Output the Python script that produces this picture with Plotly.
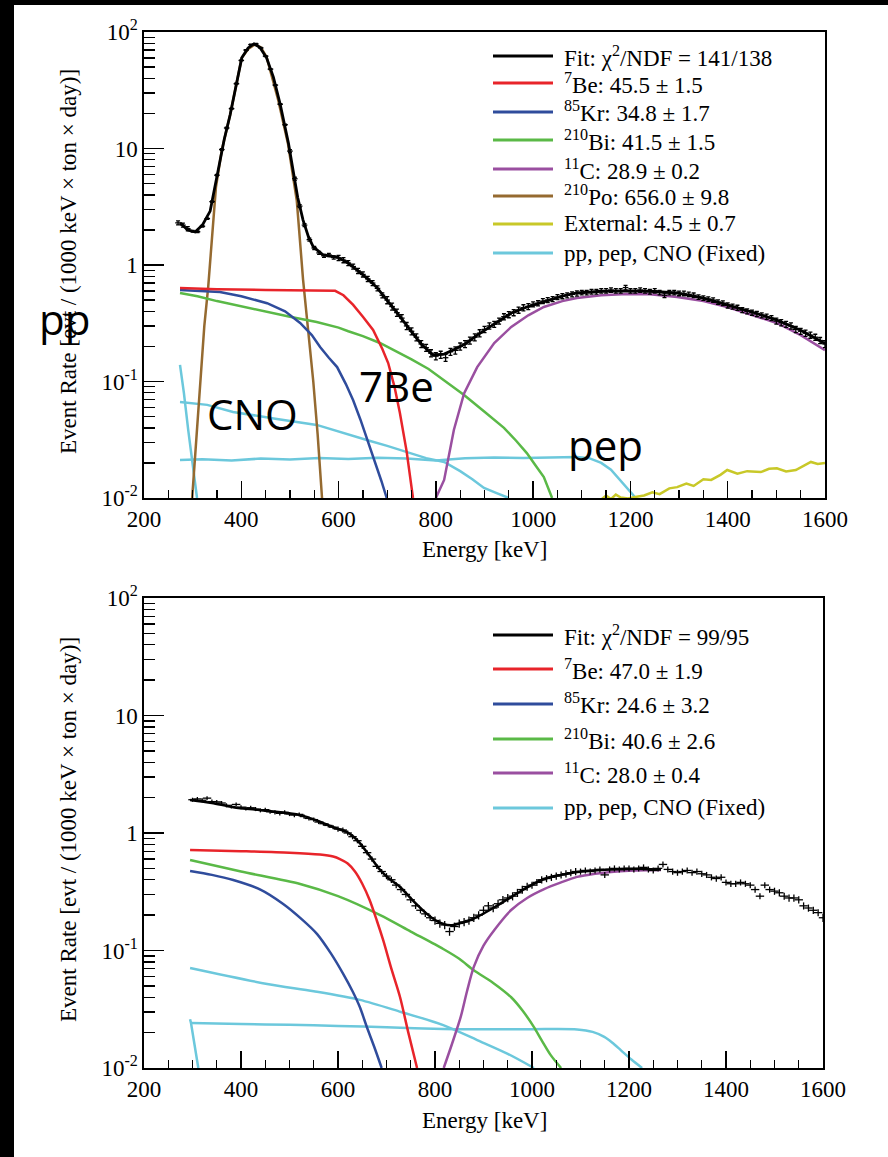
import plotly.graph_objects as go

# ---------------- DATA ----------------
# Panel A (top)
E_data_a = [270, 280, 290, 300, 310, 320, 330, 340, 350, 360, 370, 380, 390, 400, 410, 420, 430, 440, 450, 460,
            470, 480, 490, 500, 510, 520, 530, 540, 550, 560, 570, 580, 590, 600, 610, 620, 630, 640, 650, 660,
            670, 680, 690, 700, 710, 720, 730, 740, 750, 760, 770, 780, 790, 800, 810, 820, 830, 840, 850, 860,
            870, 880, 890, 900, 910, 920, 930, 940, 950, 960, 970, 980, 990, 1000, 1010, 1020, 1030, 1040, 1050, 1060,
            1070, 1080, 1090, 1100, 1110, 1120, 1130, 1140, 1150, 1160, 1170, 1180, 1190, 1200, 1210, 1220, 1230, 1240, 1250, 1260,
            1270, 1280, 1290, 1300, 1310, 1320, 1330, 1340, 1350, 1360, 1370, 1380, 1390, 1400, 1410, 1420, 1430, 1440, 1450, 1460,
            1470, 1480, 1490, 1500, 1510, 1520, 1530, 1540, 1550, 1560, 1570, 1580, 1590, 1600]
v_data_a = [2.3, 2.2, 2.05, 1.95, 1.93, 2.15, 2.5, 3.5, 5.9, 9.8, 15, 22, 36, 57, 70, 78, 79, 73, 62, 48,
            35, 24, 16, 9.5, 5.5, 3.2, 2.2, 1.65, 1.4, 1.27, 1.2, 1.22, 1.16, 1.15, 1.1, 1.04, 0.97, 0.89, 0.83, 0.76,
            0.70, 0.63, 0.55, 0.50, 0.44, 0.39, 0.35, 0.30, 0.27, 0.24, 0.21, 0.195, 0.175, 0.165, 0.17, 0.16, 0.18, 0.185, 0.20, 0.21,
            0.225, 0.24, 0.26, 0.28, 0.30, 0.31, 0.33, 0.36, 0.375, 0.39, 0.41, 0.43, 0.44, 0.46, 0.47, 0.49, 0.50, 0.51, 0.53, 0.54,
            0.55, 0.56, 0.57, 0.58, 0.58, 0.59, 0.59, 0.60, 0.60, 0.61, 0.60, 0.60, 0.64, 0.60, 0.60, 0.61, 0.60, 0.59, 0.60, 0.58,
            0.55, 0.58, 0.58, 0.57, 0.57, 0.56, 0.55, 0.53, 0.52, 0.51, 0.50, 0.48, 0.47, 0.45, 0.44, 0.43, 0.41, 0.40, 0.39, 0.38,
            0.37, 0.36, 0.35, 0.33, 0.32, 0.31, 0.30, 0.28, 0.27, 0.26, 0.25, 0.24, 0.225, 0.21]
rel_err_a = [0.04, 0.015, 0.01, 0.03, 0.05, 0.07, 0.07, 0.06, 0.05, 0.045, 0.045, 0.045, 0.05, 0.06, 0.07]  # per 100 keV from 200

E_fit_a = [274, 290, 305, 320, 336, 352, 365, 377, 390, 401, 414, 426, 438, 452, 466, 480, 497, 507, 516, 527, 538, 548,
           568, 597, 618, 638, 660, 679, 700, 720, 747, 770, 794, 817, 840, 860, 885, 920, 955, 990, 1022, 1060, 1090,
           1140, 1193, 1240, 1296, 1350, 1399, 1450, 1501, 1550, 1600]
v_fit_a = [2.3, 2.0, 1.92, 2.2, 2.9, 6.5, 12, 19.4, 37, 60, 73, 79, 74, 60, 41, 24, 11.1, 6.5, 3.8, 2.43, 1.75, 1.43,
           1.22, 1.17, 1.05, 0.906, 0.76, 0.64, 0.50, 0.39, 0.277, 0.21, 0.169, 0.172, 0.19, 0.21, 0.25, 0.31, 0.387, 0.44, 0.48, 0.54, 0.575,
           0.595, 0.60, 0.595, 0.575, 0.52, 0.454, 0.395, 0.337, 0.275, 0.212]

E_be7_a = [274, 350, 450, 550, 593, 610, 630, 650, 671, 690, 702, 715, 726, 740, 753]
v_be7_a = [0.635, 0.62, 0.61, 0.605, 0.60, 0.55, 0.454, 0.36, 0.277, 0.19, 0.144, 0.09, 0.054, 0.025, 0.01]

E_kr85_a = [274, 356, 400, 453, 490, 521, 545, 562, 580, 597, 615, 630, 645, 658, 675, 688, 699]
v_kr85_a = [0.61, 0.586, 0.54, 0.47, 0.40, 0.318, 0.25, 0.198, 0.16, 0.133, 0.095, 0.069, 0.047, 0.033, 0.02, 0.014, 0.01]

E_bi210_a = [274, 310, 350, 400, 453, 500, 555, 600, 620, 650, 685, 720, 750, 785, 815, 858, 900, 940, 965, 987, 1005, 1022, 1039]
v_bi210_a = [0.575, 0.54, 0.49, 0.44, 0.395, 0.36, 0.324, 0.29, 0.27, 0.245, 0.214, 0.18, 0.155, 0.128, 0.103, 0.0766, 0.055, 0.04, 0.031, 0.0243, 0.019, 0.0151, 0.01]

E_c11_a = [800, 817, 837, 858, 885, 920, 955, 990, 1022, 1060, 1090, 1140, 1193, 1240, 1296, 1350, 1399, 1450, 1501, 1550, 1600]
v_c11_a = [0.01, 0.0143, 0.0384, 0.079, 0.133, 0.214, 0.294, 0.37, 0.436, 0.49, 0.52, 0.55, 0.564, 0.56, 0.531, 0.49, 0.436, 0.375, 0.318, 0.25, 0.186]

E_po210_a = [299, 307, 315, 324, 332, 340, 348, 360, 377, 401, 415, 428, 440, 452, 466, 476, 496, 514, 527, 537, 548, 557, 566]
v_po210_a = [0.01, 0.03, 0.1, 0.3, 0.65, 1.9, 4.7, 9.7, 19.4, 60, 72, 78, 74, 61, 38, 26, 11, 3.6, 0.75, 0.3, 0.1, 0.035, 0.01]

E_ext_a = [1140, 1150, 1160, 1170, 1180, 1195, 1210, 1228, 1245, 1260, 1280, 1296, 1315, 1330, 1350, 1366, 1385, 1399, 1420,
           1440, 1468, 1485, 1501, 1520, 1540, 1555, 1571, 1585, 1600]
v_ext_a = [0.0097, 0.0105, 0.0098, 0.0107, 0.0101, 0.0099, 0.0102, 0.0105, 0.0112, 0.0108, 0.0121, 0.0124, 0.0133, 0.0127, 0.0145,
           0.0143, 0.0158, 0.0174, 0.0162, 0.0170, 0.0167, 0.0178, 0.0180, 0.0169, 0.0174, 0.0189, 0.0204, 0.0196, 0.0200]

E_pp_a = [274, 282, 291, 300, 309]
v_pp_a = [0.139, 0.08, 0.038, 0.02, 0.01]

E_cno_a = [274, 300, 330, 383, 420, 470, 555, 600, 658, 700, 747, 780, 817, 850, 875, 899, 925, 950]
v_cno_a = [0.0667, 0.065, 0.063, 0.0547, 0.052, 0.048, 0.0424, 0.037, 0.0315, 0.028, 0.0243, 0.022, 0.0204, 0.017, 0.0145, 0.0122, 0.011, 0.01]

E_pep_a = [274, 320, 380, 440, 500, 560, 620, 680, 740, 800, 860, 920, 980, 1040, 1090, 1115, 1140, 1160, 1173, 1190, 1211]
v_pep_a = [0.0212, 0.0215, 0.0210, 0.0218, 0.0214, 0.0220, 0.0216, 0.0222, 0.0218, 0.0210, 0.0219, 0.0223, 0.0221, 0.0224,
           0.0225, 0.022, 0.020, 0.0175, 0.0151, 0.0125, 0.01]

# Panel B (bottom)
E_data_b = [300, 310, 320, 330, 340, 350, 360, 370, 380, 390, 400, 410, 420, 430, 440, 450, 460, 470, 480, 490,
            500, 510, 520, 530, 540, 550, 560, 570, 580, 590, 600, 610, 620, 630, 640, 650, 660, 670, 680, 690,
            700, 710, 720, 730, 740, 750, 760, 770, 780, 790, 800, 810, 820, 830, 840, 850, 860, 870, 880, 890,
            900, 910, 920, 930, 940, 950, 960, 970, 980, 990, 1000, 1010, 1020, 1030, 1040, 1050, 1060, 1070, 1080, 1090,
            1100, 1110, 1120, 1130, 1140, 1150, 1160, 1170, 1180, 1190, 1200, 1210, 1220, 1230, 1240, 1250, 1260, 1270, 1280, 1290,
            1300, 1310, 1320, 1330, 1340, 1350, 1360, 1370, 1380, 1390, 1400, 1410, 1420, 1430, 1440, 1450, 1460, 1470, 1480, 1490,
            1500, 1510, 1520, 1530, 1540, 1550, 1560, 1570, 1580, 1590, 1600]
v_data_b = [1.92, 1.95, 1.90, 1.98, 1.85, 1.84, 1.80, 1.72, 1.68, 1.75, 1.66, 1.62, 1.64, 1.60, 1.56, 1.58, 1.52, 1.50, 1.47, 1.50,
            1.45, 1.42, 1.44, 1.38, 1.33, 1.30, 1.24, 1.20, 1.16, 1.12, 1.08, 1.06, 1.00, 0.93, 0.86, 0.77, 0.68, 0.60, 0.52, 0.47,
            0.43, 0.40, 0.36, 0.33, 0.30, 0.27, 0.24, 0.22, 0.205, 0.19, 0.18, 0.17, 0.165, 0.145, 0.16, 0.17, 0.175, 0.18, 0.19, 0.20,
            0.22, 0.24, 0.23, 0.25, 0.27, 0.28, 0.29, 0.31, 0.33, 0.35, 0.36, 0.38, 0.40, 0.41, 0.42, 0.43, 0.44, 0.45, 0.46, 0.47,
            0.47, 0.48, 0.47, 0.48, 0.49, 0.44, 0.49, 0.50, 0.49, 0.50, 0.50, 0.49, 0.50, 0.51, 0.49, 0.48, 0.50, 0.54, 0.49, 0.47,
            0.46, 0.47, 0.48, 0.46, 0.47, 0.45, 0.44, 0.42, 0.41, 0.42, 0.38, 0.37, 0.37, 0.38, 0.37, 0.36, 0.33, 0.29, 0.36, 0.33,
            0.32, 0.31, 0.29, 0.28, 0.28, 0.27, 0.24, 0.23, 0.22, 0.21, 0.19]
rel_err_b = [0.05, 0.04, 0.04, 0.04, 0.05, 0.06, 0.08, 0.08, 0.07, 0.06, 0.06, 0.06, 0.06, 0.07, 0.08]

E_fit_b = [295, 340, 384, 450, 522, 560, 590, 618, 632, 645, 665, 687, 705, 728, 755, 784, 800, 817, 835, 850, 870, 887,
           920, 957, 990, 1025, 1060, 1093, 1140, 1196, 1230, 1266]
v_fit_b = [1.91, 1.80, 1.66, 1.55, 1.42, 1.26, 1.12, 1.02, 0.93, 0.82, 0.64, 0.484, 0.41, 0.347, 0.265, 0.204, 0.182, 0.168,
           0.164, 0.17, 0.18, 0.193, 0.23, 0.285, 0.345, 0.406, 0.44, 0.466, 0.485, 0.494, 0.495, 0.49]

E_be7_b = [295, 400, 500, 563, 590, 604, 620, 635, 650, 665, 680, 693, 710, 728, 745, 763]
v_be7_b = [0.716, 0.70, 0.68, 0.655, 0.63, 0.60, 0.55, 0.47, 0.37, 0.27, 0.18, 0.123, 0.07, 0.04, 0.02, 0.01]

E_kr85_b = [295, 340, 384, 440, 487, 525, 557, 585, 611, 630, 645, 660, 675, 690]
v_kr85_b = [0.475, 0.44, 0.398, 0.33, 0.249, 0.185, 0.138, 0.095, 0.063, 0.045, 0.033, 0.022, 0.015, 0.01]

E_bi210_b = [295, 400, 522, 600, 687, 750, 817, 850, 880, 920, 957, 980, 1004, 1020, 1039, 1060]
v_bi210_b = [0.589, 0.47, 0.368, 0.29, 0.20, 0.145, 0.103, 0.085, 0.068, 0.053, 0.040, 0.031, 0.0223, 0.0172, 0.0128, 0.01]

E_c11_b = [818, 835, 853, 866, 880, 900, 922, 957, 990, 1025, 1060, 1093, 1130, 1163, 1200, 1235, 1266]
v_c11_b = [0.01, 0.016, 0.0272, 0.045, 0.0725, 0.11, 0.149, 0.221, 0.28, 0.333, 0.38, 0.423, 0.45, 0.466, 0.478, 0.483, 0.484]

E_pp_b = [295, 297, 312]
v_pp_b = [0.026, 0.024, 0.01]

E_pep_b = [297, 400, 500, 600, 700, 817, 900, 1000, 1093, 1125, 1149, 1165, 1183, 1205, 1227]
v_pep_b = [0.0242, 0.0237, 0.0233, 0.0228, 0.0222, 0.0215, 0.0214, 0.0214, 0.0213, 0.0203, 0.0184, 0.0165, 0.0142, 0.0118, 0.01]

E_cno_b = [295, 454, 550, 645, 730, 817, 887, 950, 1004]
v_cno_b = [0.071, 0.0519, 0.045, 0.038, 0.030, 0.0232, 0.0173, 0.0132, 0.01]

# Legend labels
legend_a = ["Fit: χ<sup>2</sup>/NDF = 141/138", "<sup>7</sup>Be: 45.5 ± 1.5", "<sup>85</sup>Kr: 34.8 ± 1.7",
            "<sup>210</sup>Bi: 41.5 ± 1.5", "<sup>11</sup>C: 28.9 ± 0.2", "<sup>210</sup>Po: 656.0 ± 9.8",
            "External: 4.5 ± 0.7", "pp, pep, CNO (Fixed)"]
legend_b = ["Fit: χ<sup>2</sup>/NDF = 99/95", "<sup>7</sup>Be: 47.0 ± 1.9", "<sup>85</sup>Kr: 24.6 ± 3.2",
            "<sup>210</sup>Bi: 40.6 ± 2.6", "<sup>11</sup>C: 28.0 ± 0.4", "pp, pep, CNO (Fixed)"]

x_ticks = [200, 400, 600, 800, 1000, 1200, 1400, 1600]
y_ticks = [0.01, 0.1, 1, 10, 100]
y_ticktext = ["10<sup>-2</sup>", "10<sup>-1</sup>", "1", "10", "10<sup>2</sup>"]
x_title = "Energy [keV]"
y_title = "Event Rate [evt / (1000 keV × ton × day)]"

# ---------------- STYLE ----------------
C_FIT = "#000000"
C_BE = "#e8242a"
C_KR = "#2f4c9c"
C_BI = "#5ab947"
C_C11 = "#9a4fa0"
C_PO = "#956a30"
C_EXT = "#c8c828"
C_FIX = "#6cc8dc"
SERIF = "Liberation Serif"
SANS = "Open Sans"
W, H = 888, 1157


def px(x):
    return x / W


def py(y):
    return 1 - y / H


fig = go.Figure()


def line(E, v, color, ax, width=2.5, smooth=False):
    fig.add_trace(go.Scatter(x=E, y=v, mode="lines",
                             line=dict(color=color, width=width, shape="spline" if smooth else "linear",
                                       smoothing=0.8),
                             xaxis="x" if ax == 1 else "x2", yaxis="y" if ax == 1 else "y2",
                             showlegend=False, hoverinfo="skip"))


def data(E, v, rel, ax, cap, mk):
    err = [val * rel[min(int((e - 200) // 100), len(rel) - 1)] for e, val in zip(E, v)]
    fig.add_trace(go.Scatter(x=E, y=v, mode="markers",
                             marker=dict(symbol="line-ew", size=mk, color="black", line=dict(width=1.3, color="black")),
                             error_y=dict(type="data", array=err, width=cap, thickness=1.3, color="black"),
                             xaxis="x" if ax == 1 else "x2", yaxis="y" if ax == 1 else "y2",
                             showlegend=False, hoverinfo="skip"))


# Top panel
line(E_pp_a, v_pp_a, C_FIX, 1)
line(E_cno_a, v_cno_a, C_FIX, 1)
line(E_pep_a, v_pep_a, C_FIX, 1)
line(E_ext_a, v_ext_a, C_EXT, 1)
line(E_po210_a, v_po210_a, C_PO, 1)
line(E_bi210_a, v_bi210_a, C_BI, 1)
line(E_kr85_a, v_kr85_a, C_KR, 1)
line(E_be7_a, v_be7_a, C_BE, 1)
line(E_c11_a, v_c11_a, C_C11, 1)
data(E_data_a, v_data_a, rel_err_a, 1, 2, 4)
line(E_fit_a, v_fit_a, C_FIT, 1, 2.8)

# Bottom panel (smooth analytic-looking curves)
line(E_pp_b, v_pp_b, C_FIX, 2)
line(E_cno_b, v_cno_b, C_FIX, 2, smooth=True)
line(E_pep_b, v_pep_b, C_FIX, 2, smooth=True)
line(E_bi210_b, v_bi210_b, C_BI, 2, smooth=True)
line(E_kr85_b, v_kr85_b, C_KR, 2, smooth=True)
line(E_be7_b, v_be7_b, C_BE, 2, smooth=True)
line(E_c11_b, v_c11_b, C_C11, 2, smooth=True)
data(E_data_b, v_data_b, rel_err_b, 2, 0, 6)
line(E_fit_b, v_fit_b, C_FIT, 2, 2.5, smooth=True)

tickfont = dict(family=SERIF, size=23, color="black")
y_minor = [k * 10 ** e for e in (-2, -1, 0, 1) for k in range(2, 10)]


def xaxis(dom, anchor):
    return dict(domain=dom, anchor=anchor, range=[200, 1600], showline=True, mirror=True, linecolor="black",
                linewidth=1.6, ticks="inside", ticklen=17, tickwidth=1.3, tickcolor="black",
                tickvals=x_ticks, tickfont=tickfont, showgrid=False, zeroline=False, automargin=False,
                minor=dict(tickmode="linear", tick0=200, dtick=50, ticks="inside", ticklen=8, tickwidth=1.3,
                           tickcolor="black", showgrid=False))


def yaxis(dom, anchor):
    return dict(domain=dom, anchor=anchor, type="log", range=[-2, 2], showline=True, mirror=True,
                linecolor="black", linewidth=1.6, ticks="inside", ticklen=20, tickwidth=1.3, tickcolor="black",
                tickvals=y_ticks, ticktext=y_ticktext, tickfont=tickfont, showgrid=False, zeroline=False,
                automargin=False,
                minor=dict(tickvals=y_minor, ticks="inside", ticklen=11, tickwidth=1.3, tickcolor="black",
                           showgrid=False))


shapes = [dict(type="rect", xref="paper", yref="paper", x0=px(14), x1=1, y0=0, y1=py(5),
               fillcolor="white", line=dict(width=0), layer="below")]
annotations = []

# axis titles
for xc, yc in ((484, 549), (484, 1120)):
    annotations.append(dict(text=x_title, xref="paper", yref="paper", x=px(xc), y=py(yc), xanchor="center",
                            yanchor="middle", showarrow=False, font=tickfont))
for xc, yc in ((68, 262), (68, 830)):
    annotations.append(dict(text=y_title, xref="paper", yref="paper", x=px(xc), y=py(yc), xanchor="center",
                            yanchor="middle", textangle=-90, showarrow=False, font=tickfont))

colors_a = [C_FIT, C_BE, C_KR, C_BI, C_C11, C_PO, C_EXT, C_FIX]
rows_a = [56, 83, 112, 140, 169, 196, 224, 253]
colors_b = [C_FIT, C_BE, C_KR, C_BI, C_C11, C_FIX]
rows_b = [635, 669, 704, 739, 773, 808]

for labels, colors, rows in ((legend_a, colors_a, rows_a), (legend_b, colors_b, rows_b)):
    for lab, col, yy in zip(labels, colors, rows):
        shapes.append(dict(type="line", xref="paper", yref="paper", x0=px(493), x1=px(553), y0=py(yy), y1=py(yy),
                           line=dict(color=col, width=3)))
        annotations.append(dict(text=lab, xref="paper", yref="paper", x=px(562), y=py(yy), xanchor="left",
                                yanchor="middle", showarrow=False, font=dict(family=SERIF, size=23, color="black")))

# Large overlay labels on top panel
for txt, xx, yy in (("pp", 64, 318), ("CNO", 253, 414), ("7Be", 396, 385), ("pep", 605, 444)):
    annotations.append(dict(text=txt, xref="paper", yref="paper", x=px(xx), y=py(yy), xanchor="center",
                            yanchor="middle", showarrow=False, font=dict(family=SANS, size=42, color="black")))

fig.update_layout(
    width=W, height=H, margin=dict(l=0, r=0, t=0, b=0, autoexpand=False),
    paper_bgcolor="black", plot_bgcolor="white", showlegend=False,
    xaxis=xaxis([px(144), px(825)], "y"),
    yaxis=yaxis([py(498), py(32)], "x"),
    xaxis2=xaxis([px(144), px(823)], "y2"),
    yaxis2=yaxis([py(1068), py(598)], "x2"),
    shapes=shapes, annotations=annotations,
)

fig.write_html("out.html", config={"displayModeBar": False, "staticPlot": True},
               post_script="document.body.style.margin='0px';document.body.style.overflow='hidden';")
